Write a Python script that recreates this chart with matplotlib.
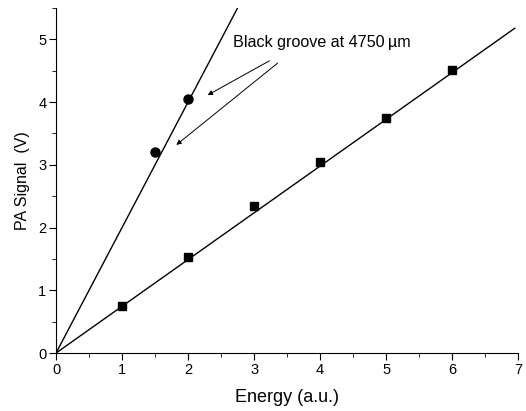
import numpy as np
import matplotlib.pyplot as plt
from matplotlib.ticker import MultipleLocator

plt.rcParams['font.family'] = ['Liberation Sans', 'DejaVu Sans']

# datos
energia_sq = [1, 2, 3, 4, 5, 6]
senal_sq = [0.75, 1.53, 2.35, 3.05, 3.74, 4.51]
energia_circ = [1.5, 2.0]
senal_circ = [3.21, 4.05]
pendiente_sq = 0.745
pendiente_circ = 2.0

fig = plt.figure(figsize=(5.26, 4.11), dpi=100)
ax = fig.add_axes([0.1065, 0.141, 0.8785, 0.8395])

# rectas de ajuste por el origen
x_sq = np.array([0, 6.95])
ax.plot(x_sq, pendiente_sq * x_sq, color='black', lw=1)
x_circ = np.array([0, 5.5 / pendiente_circ])
ax.plot(x_circ, pendiente_circ * x_circ, color='black', lw=1)

ax.plot(energia_sq, senal_sq, 's', color='black', ms=5.5)
ax.plot(energia_circ, senal_circ, 'o', color='black', ms=6.5)

ax.text(2.68, 4.95, "Black groove at 4750\u2009\u00b5m", fontsize=11.6, va='center')
ax.annotate("", xy=(2.26, 4.09), xytext=(3.27, 4.68),
            arrowprops=dict(arrowstyle='-|>', color='black', lw=0.7, mutation_scale=7))
ax.annotate("", xy=(1.79, 3.29), xytext=(3.39, 4.65),
            arrowprops=dict(arrowstyle='-|>', color='black', lw=0.7, mutation_scale=7))

ax.set_xlim(0, 7)
ax.set_ylim(0, 5.5)
ax.xaxis.set_major_locator(MultipleLocator(1))
ax.xaxis.set_minor_locator(MultipleLocator(0.5))
ax.yaxis.set_major_locator(MultipleLocator(1))
ax.yaxis.set_minor_locator(MultipleLocator(0.5))
ax.spines['top'].set_visible(False)
ax.spines['right'].set_visible(False)
ax.tick_params(which='major', direction='out', length=5, labelsize=10.5, pad=2)
ax.tick_params(which='minor', direction='out', length=3)
ax.set_xlabel("Energy (a.u.)", fontsize=13, labelpad=9)
ax.set_ylabel("PA Signal  (V)", fontsize=11.5, labelpad=6)

fig.savefig('out.png', dpi=100)
